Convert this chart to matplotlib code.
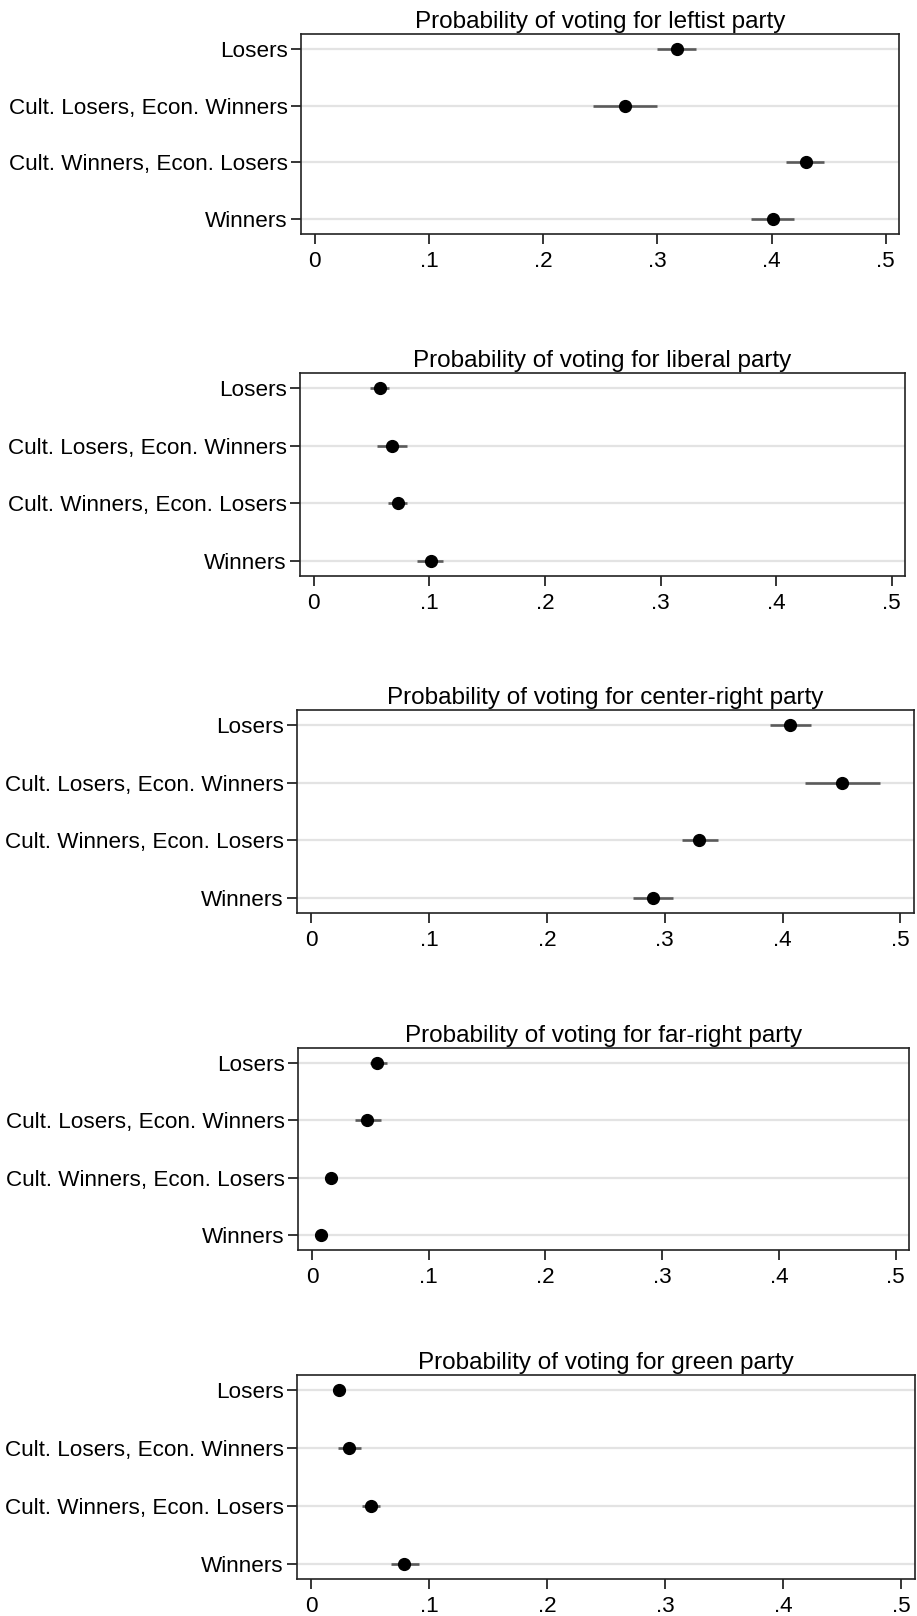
import matplotlib
matplotlib.use("Agg")
import matplotlib.pyplot as plt

plt.rcParams['font.family'] = ['Liberation Sans', 'DejaVu Sans']

categories = ["Losers", "Cult. Losers, Econ. Winners",
              "Cult. Winners, Econ. Losers", "Winners"]
titles = ["Probability of voting for leftist party",
          "Probability of voting for liberal party",
          "Probability of voting for center-right party",
          "Probability of voting for far-right party",
          "Probability of voting for green party"]
xtick_vals = [0, 0.1, 0.2, 0.3, 0.4, 0.5]
xtick_labels = ["0", ".1", ".2", ".3", ".4", ".5"]

# point estimates and 95% CI bounds, in category order
leftist_est = [0.317, 0.272, 0.430, 0.401]
leftist_lo = [0.300, 0.244, 0.413, 0.382]
leftist_hi = [0.334, 0.300, 0.446, 0.420]

liberal_est = [0.057, 0.068, 0.073, 0.101]
liberal_lo = [0.049, 0.055, 0.064, 0.089]
liberal_hi = [0.065, 0.081, 0.081, 0.112]

centerright_est = [0.406, 0.450, 0.329, 0.290]
centerright_lo = [0.389, 0.419, 0.315, 0.273]
centerright_hi = [0.424, 0.483, 0.345, 0.307]

farright_est = [0.056, 0.047, 0.016, 0.008]
farright_lo = [0.050, 0.037, 0.014, 0.007]
farright_hi = [0.064, 0.059, 0.019, 0.010]

green_est = [0.024, 0.032, 0.051, 0.079]
green_lo = [0.020, 0.023, 0.043, 0.068]
green_hi = [0.029, 0.042, 0.058, 0.091]

panels = [
    (leftist_est, leftist_lo, leftist_hi),
    (liberal_est, liberal_lo, liberal_hi),
    (centerright_est, centerright_lo, centerright_hi),
    (farright_est, farright_lo, farright_hi),
    (green_est, green_lo, green_hi),
]

W, H = 917, 1616
# axes boxes in pixels: left, top, right, bottom
boxes = [(301, 34, 899, 234),
         (300, 373, 905, 576),
         (297, 710, 914, 913),
         (298, 1048, 909, 1250),
         (297, 1375, 915, 1579)]

fig = plt.figure(figsize=(W / 100, H / 100), dpi=100)

for (est, lo, hi), title, (l, t, r, b) in zip(panels, titles, boxes):
    ax = fig.add_axes([l / W, 1 - b / H, (r - l) / W, (b - t) / H])
    ypos = list(range(len(categories)))
    ax.hlines(ypos, lo, hi, color='#5a5a5a', lw=1.9, zorder=3)
    ax.plot(est, ypos, 'o', color='black', markersize=8.5, zorder=4)

    ax.set_xlim(-0.012, 0.5115)
    ax.set_ylim(len(categories) - 1 + 0.26, -0.26)
    ax.set_yticks(ypos)
    ax.set_yticklabels(categories)
    ax.set_xticks(xtick_vals)
    ax.set_xticklabels(xtick_labels)
    ax.tick_params(axis='both', labelsize=16.2, width=1.1, color='black')
    ax.tick_params(axis='x', length=7, pad=5.5)
    ax.tick_params(axis='y', length=7, pad=2.5)
    ax.grid(axis='y', color='#e3e3e3', lw=1.6, zorder=0)
    for sp in ax.spines.values():
        sp.set_linewidth(1.2)
        sp.set_color('#222222')
    ax.set_title(title, fontsize=17.5, pad=4)

fig.savefig("out.png", dpi=100)
